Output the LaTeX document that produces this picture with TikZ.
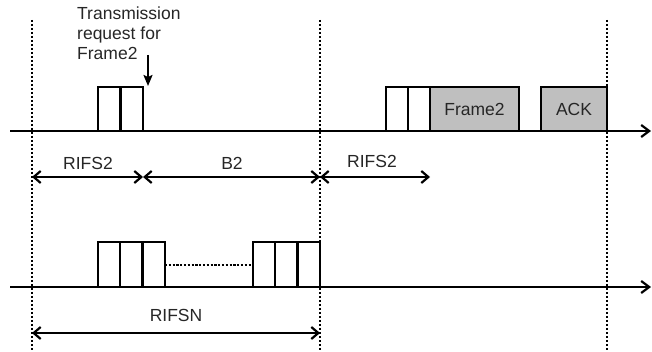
\documentclass[tikz,border=0pt]{standalone}
\usepackage{fontspec}
\setmainfont{Liberation Sans}
\usetikzlibrary{arrows.meta}
\begin{document}
\begin{tikzpicture}[x=1pt,y=-1pt,
  lbl/.style={font=\fontsize{17.5}{20}\selectfont, inner sep=0pt, text=black!85},
  slot/.style={draw, line width=2.3pt, minimum height=44pt, minimum width=22.3pt, inner sep=0pt, outer sep=0pt, anchor=south west},
  framebox/.style={slot, fill=black!25, font=\fontsize{17.5}{20}\selectfont, text=black!85},
  timeline/.style={line width=2.6pt, -{Straight Barb[length=8pt,width=12pt,line width=2.2pt]}},
  guide/.style={line width=2.3pt, dash pattern=on 2.2pt off 1.8pt},
  span/.style={line width=2.3pt, {Straight Barb[length=7pt,width=12pt,line width=2.2pt]}-{Straight Barb[length=7pt,width=12pt,line width=2.2pt]}},
  gap/.style={line width=2.3pt, dash pattern=on 2.2pt off 1.6pt}
]
\useasboundingbox (0,0) rectangle (652,352);

% guides
\coordinate (g1t) at (32,20);  \coordinate (g1b) at (32,352);
\coordinate (g2t) at (320,20); \coordinate (g2b) at (320,352);
\coordinate (g3t) at (607,20); \coordinate (g3b) at (607,352);
\draw[guide] (g1t) -- (g1b);
\draw[guide] (g2t) -- (g2b);
\draw[guide] (g3t) -- (g3b);

% top timeline
\coordinate (ta) at (10,131); \coordinate (tb) at (651,131);
\draw[timeline] (ta) -- (tb);

% top boxes, first group
\node[slot] (a1) at (98,131) {};
\node[slot] (a2) at (120.5,131) {};

% transmission request
\node[lbl, align=left, anchor=north west] (req) at (77,7) {Transmission\\request for\\Frame2};
\coordinate (rq1) at (148,55); \coordinate (rq2) at (148,86);
\draw[line width=2pt, -{Stealth[length=11pt,width=9pt,inset=2pt]}] (rq1) -- (rq2);

% top boxes, right group
\node[slot] (b1) at (386,131) {};
\node[slot] (b2) at (408,131) {};
\node[framebox, minimum width=89pt] (f2) at (430,131) {Frame2};
\node[framebox, minimum width=66pt] (ack) at (541,131) {ACK};

% spans top
\coordinate (s1) at (32,177); \coordinate (s2) at (143,177);
\coordinate (s3) at (320,177); \coordinate (s4) at (430,177);
\draw[span] (s1) -- (s2);
\draw[span] (s2) -- (s3);
\draw[span] (s3) -- (s4);
\node[lbl] (l1) at (88,163) {RIFS2};
\node[lbl] (l2) at (232,163) {B2};
\node[lbl] (l3) at (372,161) {RIFS2};

% bottom timeline
\coordinate (ua) at (10,287); \coordinate (ub) at (651,287);
\draw[timeline] (ua) -- (ub);

\node[slot, minimum height=45pt] (c1) at (98,287) {};
\node[slot, minimum height=45pt] (c2) at (120.3,287) {};
\node[slot, minimum height=45pt] (c3) at (142.6,287) {};
\node[slot, minimum height=45pt] (d1) at (253,287) {};
\node[slot, minimum height=45pt] (d2) at (275.3,287) {};
\node[slot, minimum height=45pt] (d3) at (297.6,287) {};
\draw[gap] ([yshift=-0.5pt]c3.east) -- ([yshift=-0.5pt]d1.west);

\coordinate (r1) at (32,333); \coordinate (r2) at (320,333);
\draw[span] (r1) -- (r2);
\node[lbl] (l4) at (176,315) {RIFSN};
\end{tikzpicture}
\end{document}
